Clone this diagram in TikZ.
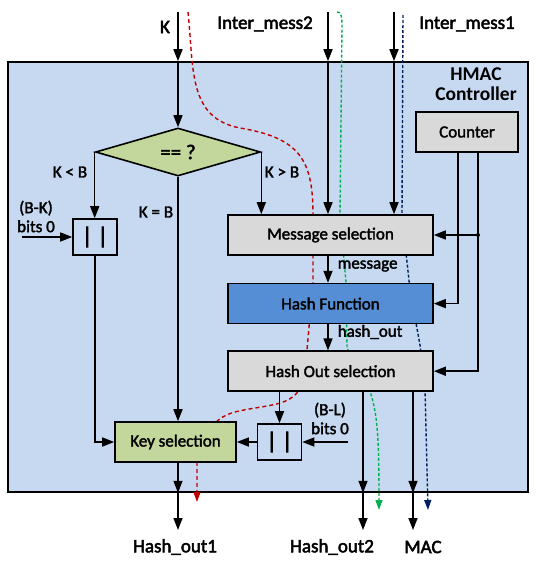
\documentclass[tikz,border=0pt]{standalone}
\usepackage{fontspec}
\setmainfont{Carlito}
\newfontfamily\titlefam{Carlito}
\usetikzlibrary{arrows.meta,shapes.geometric,positioning}
\definecolor{ctrlblue}{HTML}{C6D9F1}
\definecolor{boxgray}{HTML}{D9D9D9}
\definecolor{hashblue}{HTML}{558ED5}
\definecolor{keygreen}{HTML}{C3D69B}
\definecolor{pathred}{HTML}{C00000}
\definecolor{pathgreen}{HTML}{00B050}
\definecolor{pathnavy}{HTML}{002060}
\newcommand{\lblfont}{\addfontfeature{FakeBold=2}\fontsize{17}{19}\selectfont}
\newcommand{\iofont}{\addfontfeature{FakeBold=2.5}\fontsize{19}{21}\selectfont}
\newcommand{\titlefont}{\titlefam\bfseries\fontsize{19.5}{20}\selectfont}

\begin{document}
\begin{tikzpicture}[
		x=1pt, y=-1pt,
		>={Triangle[length=12pt,width=9pt]},
		line width=1.5pt,
		blk/.style = {draw, line width=1.6pt, minimum height=40pt, inner sep=0pt, font=\lblfont},
		selbox/.style = {blk, fill=boxgray, minimum width=205pt},
		catbox/.style = {blk, fill=ctrlblue, minimum width=44pt, minimum height=36pt, font=\addfontfeature{FakeBold=3}\fontsize{23}{23}\selectfont},
		lbl/.style = {inner sep=0pt, font=\lblfont, align=center},
		io/.style = {inner sep=0pt, font=\iofont},
		flow/.style = {line width=1.4pt, dash pattern=on 4pt off 3pt, -{Triangle[length=10pt,width=7pt]}}
	]
	\useasboundingbox (0,0) rectangle (536,562);

	% controller frame
	\node[draw, fill=ctrlblue, line width=1.6pt, minimum width=520pt, minimum height=430pt] (ctrl) at (268,277) {};
	\node[lbl, font=\titlefont] (ttl) at (476,84) {HMAC\\Controller};

	% traced data paths (under the blocks)
	\coordinate (redin) at (188,12);
	\coordinate (redout) at (197,502);
	\coordinate (grnin) at (337,12);
	\coordinate (grnout) at (379,510);
	\coordinate (navin) at (403,15);
	\coordinate (navout) at (428,510);
	\draw[flow, pathred] (redin) .. controls (194,70) and (188,118) .. (240,128)
		.. controls (300,138) and (313,160) .. (313,215) -- (313,282) -- (307,350) -- (303,384)
		.. controls (294,402) and (280,404) .. (255,408) .. controls (232,412) and (220,414) .. (210,430)
		-- (197,462) -- (redout);
	\draw[flow, pathgreen, dash pattern=on 3pt off 2pt] (grnin) .. controls (341,12) and (342,16) .. (342,26)
		-- (340,215) -- (346,282) -- (347,348) -- (367,384)
		.. controls (378,408) and (379,440) .. (grnout);
	\draw[flow, pathnavy, dash pattern=on 3pt off 2pt] (navin) -- (402,215) -- (410,290) -- (420,345) -- (425,388) -- (navout);

	% blocks
	\node[draw, diamond, fill=keygreen, aspect=3.4, minimum width=165pt, minimum height=48pt,
		inner sep=0pt, line width=1.6pt, font=\addfontfeature{FakeBold=2}\fontsize{21}{21}\selectfont] (cmp) at (178,152) {== ?};
	\node[blk, fill=boxgray, minimum width=102pt] (cnt) at (467,132) {Counter};
	\node[selbox] (msgsel) at (330.5,235) {Message selection};
	\node[selbox, fill=hashblue, below=27pt of msgsel] (hashfn) {Hash Function};
	\node[selbox, below=26pt of hashfn] (hosel) {Hash Out selection};
	\node[catbox] (cat1) at (95,237) {|\hspace{5pt}|};
	\node[catbox] (cat2) at (279.5,442) {|\hspace{5pt}|};
	\node[blk, fill=keygreen, minimum width=121pt] (keysel) at (175.5,442) {Key selection};

	% labels
	\node[io] (klbl) at (165,27) {K};
	\node[io] (m2lbl) at (265,24) {Inter\_mess2};
	\node[io] (m1lbl) at (467,24) {Inter\_mess1};
	\node[io] (ho1lbl) at (175,547) {Hash\_out1};
	\node[io] (ho2lbl) at (332,547) {Hash\_out2};
	\node[io] (maclbl) at (423,547) {MAC};
	\node[lbl] (ltb) at (70,172) {K < B};
	\node[lbl] (eqb) at (156,212) {K = B};
	\node[lbl] (gtb) at (282,172) {K > B};
	\node[lbl] (bklbl) at (36,216.5) {(B-K)\\bits 0};
	\node[lbl] (bllbl) at (330,418.5) {(B-L)\\bits 0};
	\node[lbl, anchor=west] (msglbl) at (337,266) {message};
	\node[lbl, anchor=west] (hashlbl) at (337,332) {hash\_out};

	% inputs
	\coordinate (kin) at (178,12);
	\coordinate (m2in) at (328,12);
	\coordinate (m1in) at (394,12);
	\coordinate (bkin) at (22,237);
	\coordinate (blin) at (348,442);
	\draw[->] (kin) -- (kin |- ctrl.north);
	\draw[->] (kin |- ctrl.north) -- (cmp.north);
	\draw[->] (m2in) -- (m2in |- ctrl.north);
	\draw[->] (m2in |- ctrl.north) -- (m2in |- msgsel.north);
	\draw[->] (m1in) -- (m1in |- ctrl.north);
	\draw[->] (m1in |- ctrl.north) -- (m1in |- msgsel.north);

	% key path
	\draw[->] (cmp.east) -- (cmp.east |- msgsel.north);
	\draw[->] (cmp.west) -- (cmp.west |- cat1.north);
	\draw[->] (cmp.south) -- (cmp.south |- keysel.north);
	\draw[->] (bkin) -- (cat1.west);
	\draw[->] (cat1.south) |- (keysel.west);
	\draw[->] (hosel.south -| cat2) -- (cat2.north);
	\draw[->] (blin) -- (cat2.east);
	\draw[->] (cat2.west) -- (keysel.east);

	% hash chain
	\draw[->] (m2in |- msgsel.south) -- (m2in |- hashfn.north);
	\draw[->] (m2in |- hashfn.south) -- (m2in |- hosel.north);

	% counter
	\coordinate (cta) at ([xshift=-9pt]cnt.south);
	\coordinate (ctb) at ([xshift=11pt]cnt.south);
	\draw[->] (cta) |- (hashfn.east);
	\draw[->] (ctb) |- (hosel.east);
	\fill (ctb |- msgsel.east) circle (2pt);
	\draw[->] (ctb |- msgsel.east) -- (msgsel.east);

	% outputs
	\coordinate (ho1) at (178,530);
	\coordinate (ho2) at (363,530);
	\coordinate (mac) at (413,530);
	\draw[->] (ho1 |- keysel.south) -- (ho1 |- ctrl.south);
	\draw[->] (ho1 |- ctrl.south) -- (ho1);
	\draw[->] (ho2 |- hosel.south) -- (ho2 |- ctrl.south);
	\draw[->] (ho2 |- ctrl.south) -- (ho2);
	\draw[->] (mac |- hosel.south) -- (mac |- ctrl.south);
	\draw[->] (mac |- ctrl.south) -- (mac);
\end{tikzpicture}
\end{document}
